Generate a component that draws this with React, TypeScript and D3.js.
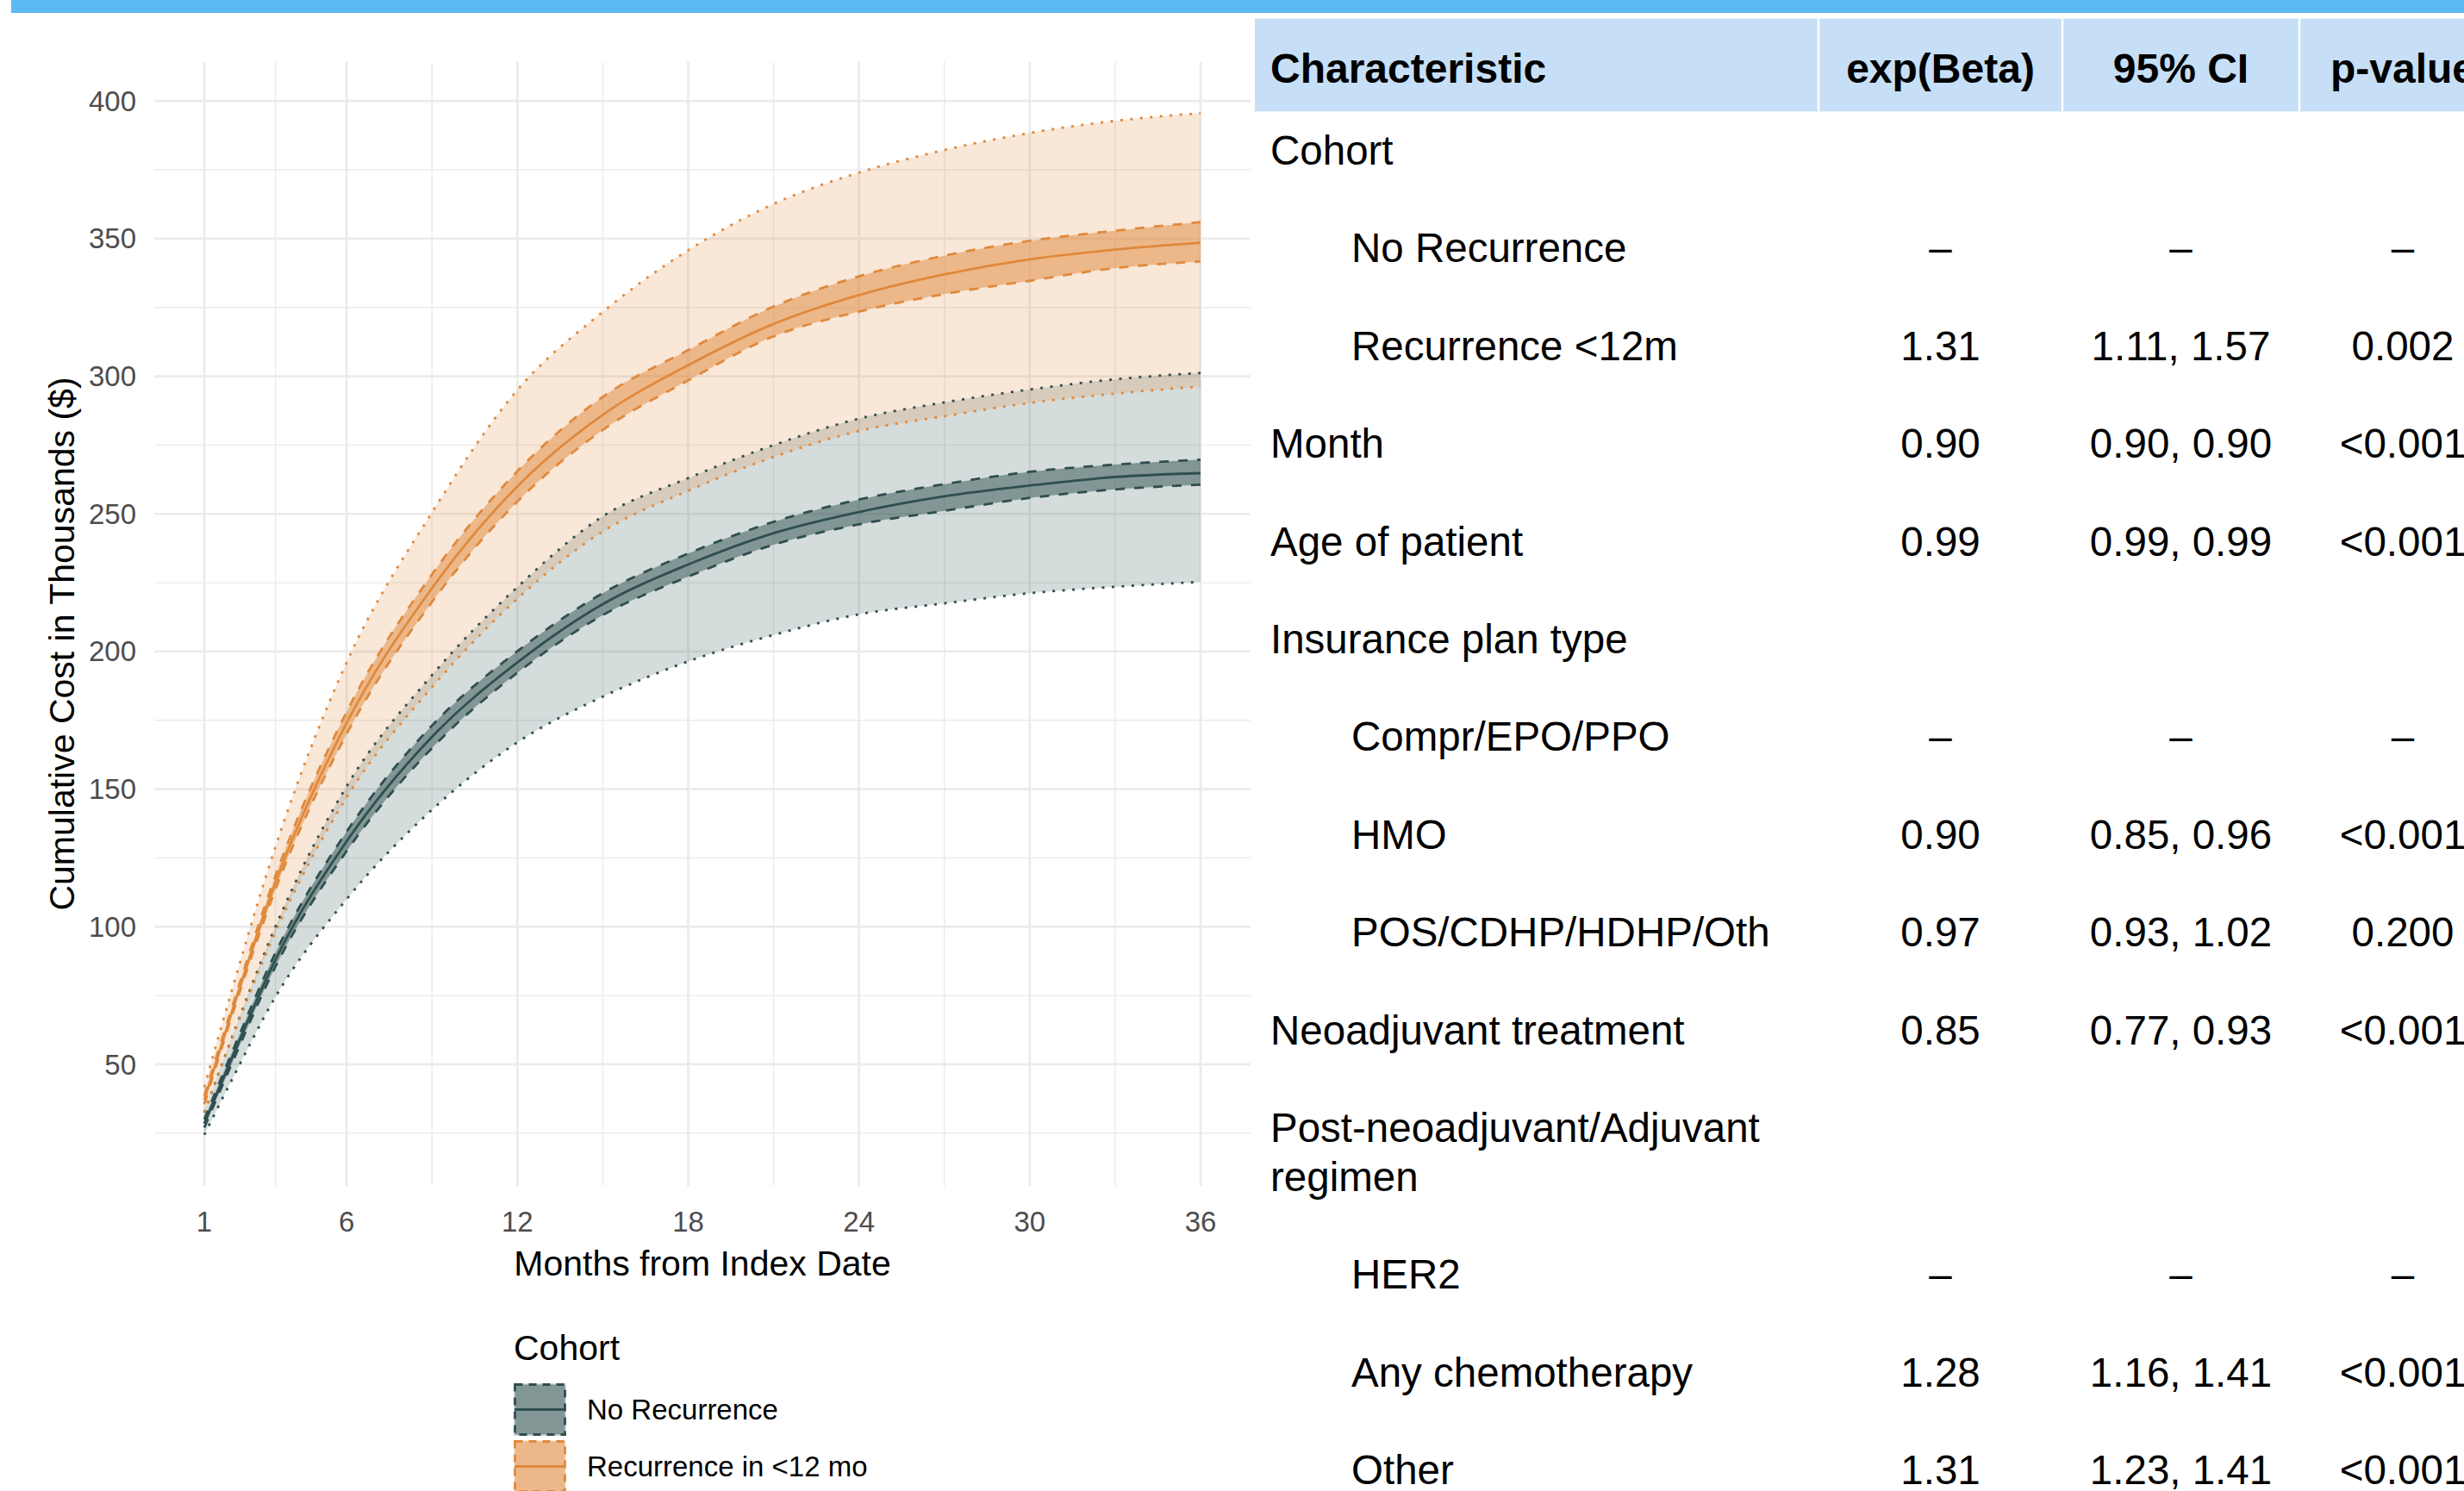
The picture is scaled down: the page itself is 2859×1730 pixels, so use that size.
import React from 'react';
import * as d3 from 'd3';

// ---------- data ----------
const months = [1, 2, 3.5, 6, 9, 12, 15, 18, 21, 24, 27, 30, 33, 36];
const xTicks = [1, 6, 12, 18, 24, 30, 36];
const yTicks = [50, 100, 150, 200, 250, 300, 350, 400];

const noRecMean = [28.5, 53, 88, 131, 169, 196, 217.2, 231.6, 243, 250.7, 256.4, 260.3, 263.4, 264.8];
const noRecCiHi = [30, 55, 90.5, 134.5, 173.1, 200.1, 221.2, 235.6, 247.1, 255.2, 260.8, 265.3, 267.9, 269.7];
const noRecCiLo = [27, 51, 85.5, 127.5, 164.9, 192.3, 213.2, 227.2, 238.8, 246.2, 251.1, 255.8, 258.9, 260.6];
const noRecPiHi = [32.5, 60.5, 100, 151, 191.4, 223.4, 249.1, 263, 275, 284.6, 290.5, 295.2, 298.9, 301.2];
const noRecPiLo = [24.4, 45, 74.5, 110, 142.5, 167, 183.6, 196.4, 206, 213.5, 217.5, 221.2, 223.5, 225.3];

const recMean = [37, 70, 116, 174, 223, 260, 286, 304, 319, 329.5, 337, 342.5, 346, 348.5];
const recCiHi = [38.5, 71.5, 118.5, 178, 228, 265.5, 292.5, 309.5, 325.3, 336.3, 343.8, 349.2, 352.9, 356];
const recCiLo = [35.5, 68.5, 113.5, 170, 218, 254.5, 280.5, 298.5, 314.5, 323.5, 329.9, 334.7, 339.3, 341.7];
const recPiHi = [41.7, 78, 129, 196, 250.5, 295, 323.4, 345.8, 362.6, 374, 382.2, 388.4, 392.8, 395.6];
const recPiLo = [32.5, 60, 98, 147, 187, 219.2, 243.6, 258.4, 270.7, 280.1, 285.5, 290.3, 293.7, 296.3];

const cohortNames = ['No Recurrence', 'Recurrence in <12 mo'];
const cohortColors = ['#2F4F4F', '#E0893B'];

const tableHeaders = ['Characteristic', 'exp(Beta)', '95% CI', 'p-value'];
const rowLabels = [
  'Cohort', 'No Recurrence', 'Recurrence <12m', 'Month', 'Age of patient',
  'Insurance plan type', 'Compr/EPO/PPO', 'HMO', 'POS/CDHP/HDHP/Oth',
  'Neoadjuvant treatment', 'Post-neoadjuvant/Adjuvant\nregimen', 'HER2',
  'Any chemotherapy', 'Other',
];
const rowIndent = [0, 1, 1, 0, 0, 0, 1, 1, 1, 0, 0, 1, 1, 1];
const rowBeta = ['', '–', '1.31', '0.90', '0.99', '', '–', '0.90', '0.97', '0.85', '', '–', '1.28', '1.31'];
const rowCI = ['', '–', '1.11, 1.57', '0.90, 0.90', '0.99, 0.99', '', '–', '0.85, 0.96', '0.93, 1.02', '0.77, 0.93', '', '–', '1.16, 1.41', '1.23, 1.41'];
const rowP = ['', '–', '0.002', '<0.001', '<0.001', '', '–', '<0.001', '0.200', '<0.001', '', '–', '<0.001', '<0.001'];

// ---------- layout ----------
const W = 2859;
const H = 1730;
const FONT = "'Liberation Sans', Arial, Helvetica, sans-serif";
const panel = { left: 179.2, right: 1450.8, top: 72, bottom: 1376 };

function expand(min: number, max: number) {
  const e = (max - min) * 0.05;
  return [min - e, max + e];
}

export default function App() {
  const allVals = [...noRecPiLo, ...noRecPiHi, ...recPiLo, ...recPiHi];
  const x = d3.scaleLinear()
    .domain(expand(d3.min(months)!, d3.max(months)!))
    .range([panel.left, panel.right]);
  const y = d3.scaleLinear()
    .domain(expand(d3.min(allVals)!, d3.max(allVals)!))
    .range([panel.bottom, panel.top]);

  const xMinor = [3.5, 9, 15, 21, 27, 33];
  const yMinor = [25, 75, 125, 175, 225, 275, 325, 375];

  const area = (lo: number[], hi: number[]) =>
    d3.area<number>()
      .x((m) => x(m))
      .y0((_, i) => y(lo[i]))
      .y1((_, i) => y(hi[i]))
      .curve(d3.curveMonotoneX)(months) || '';
  const line = (v: number[]) =>
    d3.line<number>()
      .x((m) => x(m))
      .y((_, i) => y(v[i]))
      .curve(d3.curveMonotoneX)(months) || '';

  const groups = [
    { mean: noRecMean, ciHi: noRecCiHi, ciLo: noRecCiLo, piHi: noRecPiHi, piLo: noRecPiLo, color: cohortColors[0] },
    { mean: recMean, ciHi: recCiHi, ciLo: recCiLo, piHi: recPiHi, piLo: recPiLo, color: cohortColors[1] },
  ];

  // table layout
  const colSep = [2110, 2393, 2668];
  const colCenter = [2251.5, 2530.5, 2788];
  const rowStep = 113.4;
  const lineH = 57;
  let yCursor = 191;
  const rowY: number[] = [];
  rowLabels.forEach((lab) => {
    rowY.push(yCursor);
    const n = lab.split('\n').length;
    yCursor += rowStep + (n - 1) * lineH;
  });

  const lw = 2.8;

  return (
    <svg width={W} height={H} style={{ position: 'absolute', left: 0, top: 0, background: '#fff' }} fontFamily={FONT}>
      <rect x={0} y={0} width={W} height={H} fill="#fff" />
      {/* top banner */}
      <rect x={13} y={0} width={W - 13} height={15} fill="#5BBAF2" />

      {/* grid */}
      {yMinor.map((v) => (
        <line key={'ym' + v} x1={panel.left} x2={panel.right} y1={y(v)} y2={y(v)} stroke="#EBEBEB" strokeWidth={1.4} />
      ))}
      {xMinor.map((v) => (
        <line key={'xm' + v} x1={x(v)} x2={x(v)} y1={panel.top} y2={panel.bottom} stroke="#EBEBEB" strokeWidth={1.4} />
      ))}
      {yTicks.map((v) => (
        <line key={'yM' + v} x1={panel.left} x2={panel.right} y1={y(v)} y2={y(v)} stroke="#EBEBEB" strokeWidth={2.7} />
      ))}
      {xTicks.map((v) => (
        <line key={'xM' + v} x1={x(v)} x2={x(v)} y1={panel.top} y2={panel.bottom} stroke="#EBEBEB" strokeWidth={2.7} />
      ))}

      {/* outer ribbons */}
      {groups.map((g, i) => (
        <path key={'pi' + i} d={area(g.piLo, g.piHi)} fill={g.color} fillOpacity={0.2} />
      ))}
      {/* inner ribbons */}
      {groups.map((g, i) => (
        <path key={'ci' + i} d={area(g.ciLo, g.ciHi)} fill={g.color} fillOpacity={0.5} />
      ))}
      {/* lines */}
      {groups.map((g, i) => (
        <g key={'ln' + i} fill="none" stroke={g.color}>
          <path d={line(g.piHi)} strokeWidth={lw} strokeDasharray="3,8.5" />
          <path d={line(g.piLo)} strokeWidth={lw} strokeDasharray="3,8.5" />
          <path d={line(g.ciHi)} strokeWidth={lw} strokeDasharray="11,11" />
          <path d={line(g.ciLo)} strokeWidth={lw} strokeDasharray="11,11" />
          <path d={line(g.mean)} strokeWidth={lw} />
        </g>
      ))}

      {/* axes labels */}
      {yTicks.map((v) => (
        <text key={'yt' + v} x={158} y={y(v)} dy="0.35em" textAnchor="end" fontSize={33} fill="#4D4D4D">{v}</text>
      ))}
      {xTicks.map((v) => (
        <text key={'xt' + v} x={x(v)} y={1429} textAnchor="middle" fontSize={33} fill="#4D4D4D">{v}</text>
      ))}
      <text x={(panel.left + panel.right) / 2} y={1480} textAnchor="middle" fontSize={41} fill="#000">Months from Index Date</text>
      <text transform={`translate(86,747) rotate(-90)`} textAnchor="middle" fontSize={41} fill="#000">Cumulative Cost in Thousands ($)</text>

      {/* legend */}
      <text x={596} y={1578} fontSize={41} fill="#000">Cohort</text>
      {cohortNames.map((name, i) => {
        const ky = 1605 + i * 66;
        const c = cohortColors[i];
        return (
          <g key={'lg' + i}>
            <rect x={596} y={ky} width={61} height={61} fill="#fff" />
            <rect x={596} y={ky} width={61} height={61} fill={c} fillOpacity={0.2} />
            <rect x={597.5} y={ky + 1.5} width={58} height={58} fill={c} fillOpacity={0.5} stroke={c} strokeWidth={2.8} strokeDasharray="9,7" />
            <line x1={597} x2={656} y1={ky + 30.5} y2={ky + 30.5} stroke={c} strokeWidth={2.8} />
            <text x={681} y={ky + 30.5} dy="0.35em" fontSize={33} fill="#000">{name}</text>
          </g>
        );
      })}

      {/* table */}
      <rect x={1456} y={21.7} width={W - 1456} height={107.6} fill="#C6DFF6" />
      {colSep.map((cx) => (
        <line key={'cs' + cx} x1={cx} x2={cx} y1={21.7} y2={129.3} stroke="#fff" strokeWidth={2.5} />
      ))}
      <text x={1474} y={96} fontSize={48} fontWeight="bold" fill="#000">{tableHeaders[0]}</text>
      {tableHeaders.slice(1).map((h, i) => (
        <text key={'th' + i} x={colCenter[i]} y={96} textAnchor="middle" fontSize={48} fontWeight="bold" fill="#000">{h}</text>
      ))}
      {rowLabels.map((lab, r) => (
        <g key={'row' + r}>
          {lab.split('\n').map((part, k) => (
            <text key={k} x={rowIndent[r] ? 1568 : 1474} y={rowY[r] + k * lineH} fontSize={47.5} fill="#000">{part}</text>
          ))}
          {[rowBeta[r], rowCI[r], rowP[r]].map((v, c) => (
            <text key={'c' + c} x={colCenter[c]} y={rowY[r]} textAnchor="middle" fontSize={47.5} fill="#000">{v}</text>
          ))}
        </g>
      ))}
    </svg>
  );
}
